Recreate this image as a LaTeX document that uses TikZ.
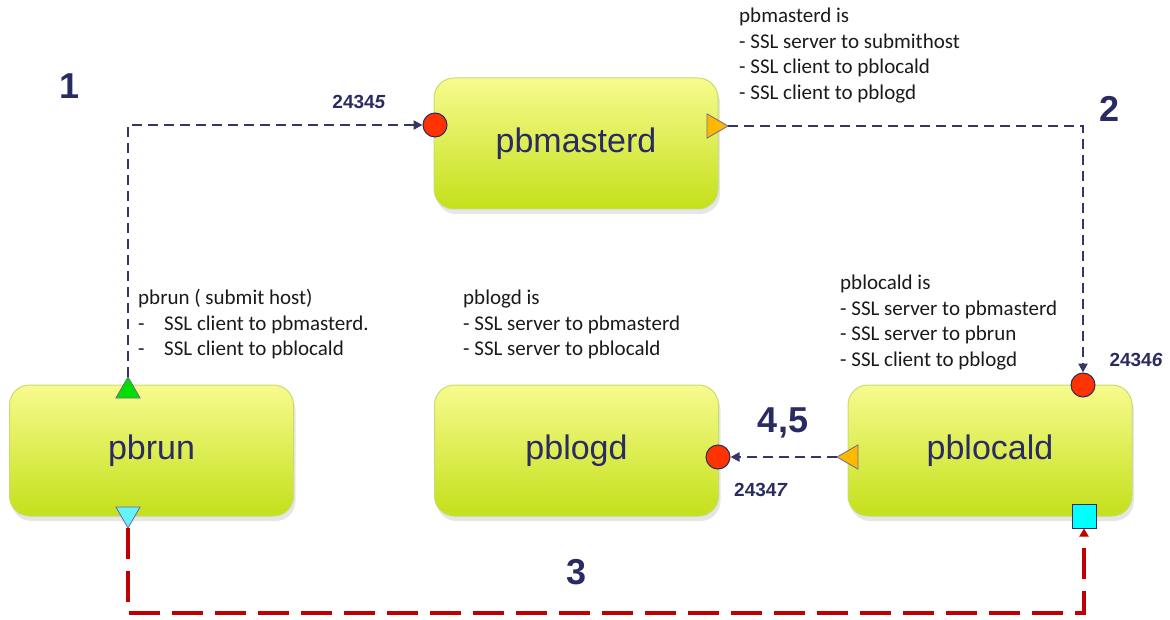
\documentclass[tikz,border=0pt]{standalone}
\usepackage{fontspec}
\setmainfont{Carlito}
\newfontfamily\arialfont{Liberation Sans}
\usetikzlibrary{shapes.geometric,shadows,arrows.meta}
\definecolor{navy}{HTML}{2B2B63}
\definecolor{lineblue}{HTML}{35356A}
\definecolor{redfill}{HTML}{FF3300}
\definecolor{orangefill}{HTML}{FFB800}
\definecolor{greenfill}{HTML}{00E000}
\definecolor{cyantri}{HTML}{66F2FF}
\definecolor{cyansq}{HTML}{00FFFF}
\definecolor{redline}{HTML}{C00000}
\definecolor{boxtop}{HTML}{F7FB8E}
\definecolor{boxbot}{HTML}{C4E01A}
\definecolor{boxedge}{HTML}{C8DC70}
\definecolor{notetext}{HTML}{1A1A1A}
\tikzset{
  procbox/.style={draw=boxedge, line width=1pt, rounded corners=20pt,
    top color=boxtop, bottom color=boxbot,
    minimum width=284pt, minimum height=131pt, inner sep=0pt,
    text=navy, font=\arialfont\fontsize{34}{40}\selectfont,
    drop shadow={opacity=0.2, shadow xshift=2pt, shadow yshift=-5pt}},
  port/.style={circle, draw=navy, line width=1pt, fill=redfill, minimum size=24pt, inner sep=0pt},
  tri/.style={regular polygon, regular polygon sides=3, draw=navy!70, line width=0.8pt,
    minimum size=28pt, inner sep=0pt, outer sep=0pt},
  sqport/.style={rectangle, draw=navy, line width=1pt, fill=cyansq, minimum size=24pt, inner sep=0pt},
  navyflow/.style={draw=lineblue, line width=2.8pt, dash pattern=on 10pt off 6pt,
    -{Triangle[length=9pt,width=9pt]}},
  redflow/.style={draw=redline, line width=3.8pt, dash pattern=on 31pt off 12pt,
    -{Triangle[length=8pt,width=9pt]}},
  stepnum/.style={anchor=base, text=navy, font=\arialfont\bfseries\fontsize{36}{40}\selectfont, inner sep=0pt},
  portnum/.style={text=navy, font=\arialfont\bfseries\fontsize{19}{22}\selectfont, inner sep=0pt},
  note/.style={anchor=base west, inner sep=0pt, text=notetext, font=\fontsize{21}{25.5}\selectfont}
}
\begin{document}
\begin{tikzpicture}[x=1pt,y=-1pt]
\useasboundingbox (0,0) rectangle (1170,620);

% process boxes
\node[procbox] (master) at (576,143.5) {pbmasterd};
\node[procbox] (run) at (151.5,450.5) {pbrun};
\node[procbox] (logd) at (576.5,450.5) {pblogd};
\node[procbox] (local) at (990,450.5) {pblocald};

% ports
\node[port] (mport) at (435,125) {};
\node[tri, fill=orangefill, shape border rotate=-90] (mout) at (714,126) {};
\node[tri, fill=greenfill] (runout) at (128,391) {};
\node[tri, fill=cyantri, shape border rotate=180] (runout2) at (128,514) {};
\node[port] (lport) at (1083,385) {};
\node[tri, fill=orangefill, shape border rotate=90] (lout) at (851,457) {};
\node[port] (gport) at (718,457) {};
\node[sqport] (lsq) at (1084,516) {};
\coordinate (bottomrun) at (600,613);

% connectors
\draw[navyflow] (runout.corner 1) |- (mport);
\draw[navyflow] (mout.corner 1) -| (lport);
\draw[navyflow] (lout.corner 1) -- (gport);
\draw[redflow] (runout2.corner 1) |- (bottomrun) -| (lsq.south);

% step numbers
\node[stepnum] (s1) at (70,99) {1};
\node[stepnum] (s2) at (1109,122) {2};
\node[stepnum] (s3) at (577,584) {3};
\node[stepnum] (s45) at (783,432) {4,5};

% port numbers
\node[portnum] (p1) at (359,102) {2434\textit{5}};
\node[portnum] (p2) at (1136,360) {2434\textit{6}};
\node[portnum] (p3) at (761,490) {2434\textit{7}};

% notes
\node[note] (nmaster) at (739,23) {\begin{tabular}[t]{@{}l@{}}pbmasterd is\\- SSL server to submithost\\- SSL client to pblocald\\- SSL client to pblogd\end{tabular}};
\node[note] (nrun) at (138,305) {\begin{tabular}[t]{@{}l@{}}pbrun ( submit host)\\\makebox[26pt][l]{-}SSL client to pbmasterd.\\\makebox[26pt][l]{-}SSL client to pblocald\end{tabular}};
\node[note] (nlogd) at (463,305) {\begin{tabular}[t]{@{}l@{}}pblogd is\\- SSL server to pbmasterd\\- SSL server to pblocald\end{tabular}};
\node[note] (nlocal) at (840,290) {\begin{tabular}[t]{@{}l@{}}pblocald is\\- SSL server to pbmasterd\\- SSL server to pbrun\\- SSL client to pblogd\end{tabular}};
\end{tikzpicture}
\end{document}
